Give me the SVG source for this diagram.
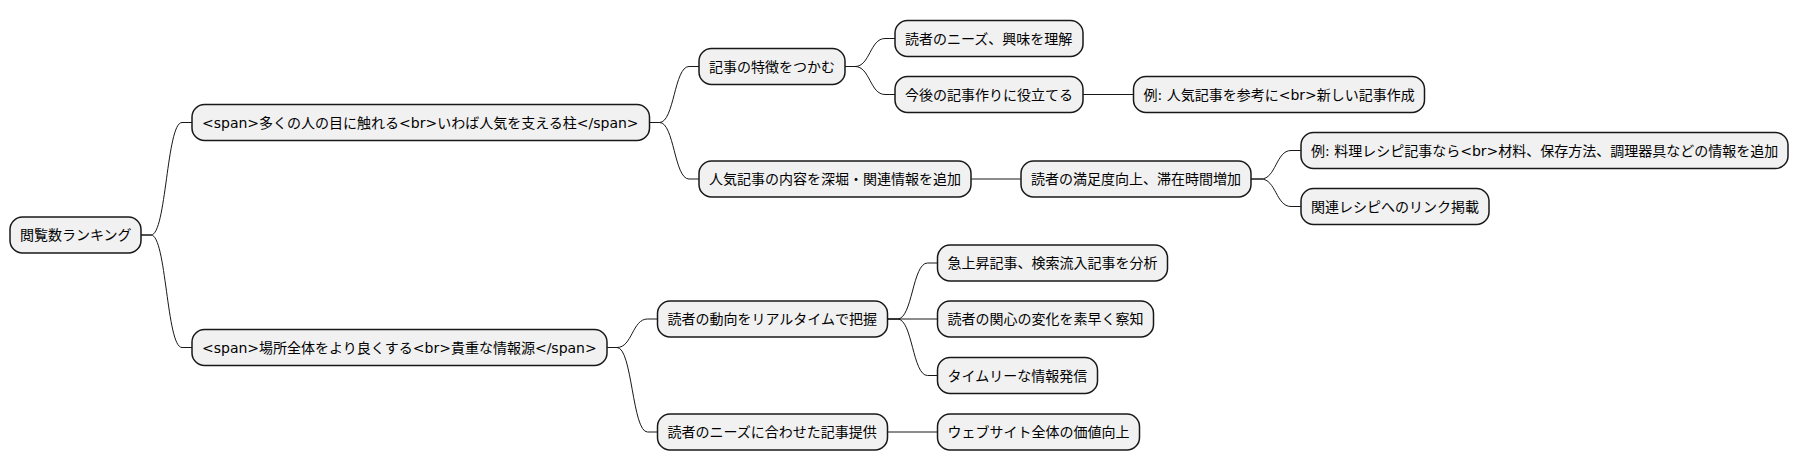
<svg xmlns="http://www.w3.org/2000/svg" width="1799" height="471" viewBox="0 0 1799 471">
<style>
.node rect{fill:#F1F1F1;stroke:#181818;stroke-width:1.5}
.node text{font-family:"DejaVu Sans","Noto Sans CJK JP",sans-serif;font-size:14px;fill:#000000}
.edges path{fill:none;stroke:#181818;stroke-width:1}
</style>
<rect x="0" y="0" width="1799" height="471" fill="#FFFFFF"/>
<g class="edges" id="connectors">
<path d="M141 235 H151 C166.5 235 166.5 122.5 182 122.5 H192"/>
<path d="M141 235 H151 C166.5 235 166.5 347.5 182 347.5 H192"/>
<path d="M649.5 122.5 H659.5 C674.25 122.5 674.25 66.5 689 66.5 H699"/>
<path d="M649.5 122.5 H659.5 C674.25 122.5 674.25 179 689 179 H699"/>
<path d="M845 66.5 H855 C870 66.5 870 38.5 885 38.5 H895"/>
<path d="M845 66.5 H855 C870 66.5 870 94.5 885 94.5 H895"/>
<path d="M1083 94.5 H1133.5"/>
<path d="M971 179 H1021"/>
<path d="M1251 179 H1261 C1276 179 1276 150.5 1291 150.5 H1301"/>
<path d="M1251 179 H1261 C1276 179 1276 206.5 1291 206.5 H1301"/>
<path d="M607 347.5 H617 C632.25 347.5 632.25 319 647.5 319 H657.5"/>
<path d="M607 347.5 H617 C632.25 347.5 632.25 432 647.5 432 H657.5"/>
<path d="M887.5 319 H897.5 C912.5 319 912.5 263 927.5 263 H937.5"/>
<path d="M887.5 319 H937.5"/>
<path d="M887.5 319 H897.5 C912.5 319 912.5 375.5 927.5 375.5 H937.5"/>
<path d="M887.5 432 H937.5"/>
</g>
<g class="node" id="n0"><rect x="10" y="217" width="131" height="36" rx="12.5"/><text x="20" y="240">閲覧数ランキング</text></g>
<g class="node" id="n1"><rect x="192" y="104.5" width="457.5" height="36" rx="12.5"/><text x="202" y="127.5">&lt;span&gt;多くの人の目に触れる&lt;br&gt;いわば人気を支える柱&lt;/span&gt;</text></g>
<g class="node" id="n2"><rect x="699" y="48.5" width="146" height="36" rx="12.5"/><text x="709" y="71.5">記事の特徴をつかむ</text></g>
<g class="node" id="n3"><rect x="895" y="20.5" width="188" height="36" rx="12.5"/><text x="905" y="43.5">読者のニーズ、興味を理解</text></g>
<g class="node" id="n4"><rect x="895" y="76.5" width="188" height="36" rx="12.5"/><text x="905" y="99.5">今後の記事作りに役立てる</text></g>
<g class="node" id="n5"><rect x="1133.5" y="76.5" width="291" height="36" rx="12.5"/><text x="1143.5" y="99.5">例: 人気記事を参考に&lt;br&gt;新しい記事作成</text></g>
<g class="node" id="n6"><rect x="699" y="161" width="272" height="36" rx="12.5"/><text x="709" y="184">人気記事の内容を深堀・関連情報を追加</text></g>
<g class="node" id="n7"><rect x="1021" y="161" width="230" height="36" rx="12.5"/><text x="1031" y="184">読者の満足度向上、滞在時間増加</text></g>
<g class="node" id="n8"><rect x="1301" y="132.5" width="487" height="36" rx="12.5"/><text x="1311" y="155.5">例: 料理レシピ記事なら&lt;br&gt;材料、保存方法、調理器具などの情報を追加</text></g>
<g class="node" id="n9"><rect x="1301" y="188.5" width="188" height="36" rx="12.5"/><text x="1311" y="211.5">関連レシピへのリンク掲載</text></g>
<g class="node" id="n10"><rect x="192" y="329.5" width="415" height="36" rx="12.5"/><text x="202" y="352.5">&lt;span&gt;場所全体をより良くする&lt;br&gt;貴重な情報源&lt;/span&gt;</text></g>
<g class="node" id="n11"><rect x="657.5" y="301" width="230" height="36" rx="12.5"/><text x="667.5" y="324">読者の動向をリアルタイムで把握</text></g>
<g class="node" id="n12"><rect x="937.5" y="245" width="230" height="36" rx="12.5"/><text x="947.5" y="268">急上昇記事、検索流入記事を分析</text></g>
<g class="node" id="n13"><rect x="937.5" y="301" width="216" height="36" rx="12.5"/><text x="947.5" y="324">読者の関心の変化を素早く察知</text></g>
<g class="node" id="n14"><rect x="937.5" y="357.5" width="160" height="36" rx="12.5"/><text x="947.5" y="380.5">タイムリーな情報発信</text></g>
<g class="node" id="n15"><rect x="657.5" y="414" width="230" height="36" rx="12.5"/><text x="667.5" y="437">読者のニーズに合わせた記事提供</text></g>
<g class="node" id="n16"><rect x="937.5" y="414" width="202" height="36" rx="12.5"/><text x="947.5" y="437">ウェブサイト全体の価値向上</text></g>
</svg>
